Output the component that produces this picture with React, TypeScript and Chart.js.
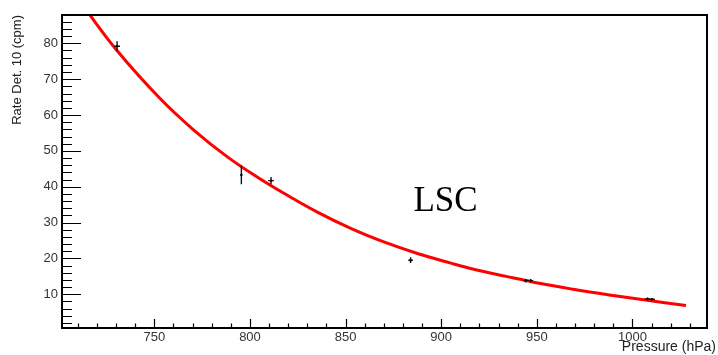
import React, { useEffect, useRef } from 'react';
import { Chart, registerables } from 'chart.js';

Chart.register(...registerables);

// Measured points (pressure in hPa, rate in cpm) with their error bars
const pressure = [730.5, 795.5, 811.0, 884.0, 944.2, 946.8, 1007.9, 1010.2];
const rate = [79.2, 43.3, 41.7, 19.5, 13.8, 13.8, 8.7, 8.6];
const rateErr = [1.4, 2.6, 1.0, 0.8, 0.5, 0.5, 0.4, 0.4];
const pressureErr = [1.5, 0.6, 1.5, 1.2, 1.2, 1.2, 1.5, 1.5];

// Fit curve
const fitPressure = [712, 730, 753, 770, 788, 805, 818, 835, 853, 870, 888, 905, 917, 934, 952, 969, 987, 1004, 1028];
const fitRate = [91.0, 78.3, 64.6, 56.1, 48.4, 42.3, 38.1, 33.0, 28.3, 24.6, 21.3, 18.7, 17.0, 15.0, 13.0, 11.4, 9.9, 8.6, 6.9];

// Axes
const xRange = [701.7, 1039];
const yRange = [0.6, 87.9];
const xMajorStep = 50;
const xMinorStep = 10;
const yMajorStep = 10;
const yMinorStep = 2;

const xTitle = 'Pressure (hPa)';
const yTitle = 'Rate Det. 10 (cpm)';
const labelText = 'LSC';
const labelAt = [885.5, 33.1];

const rootStylePlugin = {
  id: 'rootStyle',
  afterDatasetsDraw(chart: any) {
    const { ctx, chartArea } = chart;
    const xs = chart.scales.x;
    const ys = chart.scales.y;
    const { left, right, top, bottom } = chartArea;
    ctx.save();

    // error bars
    ctx.strokeStyle = '#111';
    ctx.lineWidth = 1.4;
    for (let i = 0; i < pressure.length; i++) {
      const px = xs.getPixelForValue(pressure[i]);
      const py = ys.getPixelForValue(rate[i]);
      const x0 = xs.getPixelForValue(pressure[i] - pressureErr[i]);
      const x1 = xs.getPixelForValue(pressure[i] + pressureErr[i]);
      const y0 = ys.getPixelForValue(rate[i] - rateErr[i]);
      const y1 = ys.getPixelForValue(rate[i] + rateErr[i]);
      ctx.beginPath();
      ctx.moveTo(x0, py);
      ctx.lineTo(x1, py);
      ctx.moveTo(px, y0);
      ctx.lineTo(px, y1);
      ctx.stroke();
    }

    // ticks inside the frame
    ctx.strokeStyle = '#000';
    ctx.lineWidth = 1.2;
    ctx.beginPath();
    const xStart = Math.ceil(xRange[0] / xMinorStep) * xMinorStep;
    for (let v = xStart; v <= xRange[1]; v += xMinorStep) {
      const p = Math.round(xs.getPixelForValue(v)) + 0.5;
      const len = v % xMajorStep === 0 ? 9 : 4.5;
      ctx.moveTo(p, bottom);
      ctx.lineTo(p, bottom - len);
    }
    const yStart = Math.ceil(yRange[0] / yMinorStep) * yMinorStep;
    for (let v = yStart; v <= yRange[1]; v += yMinorStep) {
      const p = Math.round(ys.getPixelForValue(v)) + 0.5;
      const len = v % yMajorStep === 0 ? 19 : 10;
      ctx.moveTo(left, p);
      ctx.lineTo(left + len, p);
    }
    ctx.stroke();

    // frame
    ctx.lineWidth = 2;
    ctx.strokeRect(left, top, right - left, bottom - top);

    // label
    ctx.fillStyle = '#000';
    ctx.font = '35px "Liberation Serif", "DejaVu Serif", serif';
    ctx.textAlign = 'left';
    ctx.textBaseline = 'alphabetic';
    ctx.fillText(labelText, xs.getPixelForValue(labelAt[0]), ys.getPixelForValue(labelAt[1]));

    // x axis title (right aligned under axis end)
    ctx.fillStyle = '#222';
    ctx.font = '14px "Liberation Sans", Arial, sans-serif';
    ctx.textAlign = 'right';
    ctx.textBaseline = 'middle';
    ctx.fillText(xTitle, chart.width - 2, 347);
    ctx.restore();
  },
};

export default function App() {
  const ref = useRef<HTMLCanvasElement | null>(null);
  useEffect(() => {
    document.body.style.margin = '0';
    const canvas = ref.current!;
    const chart = new Chart(canvas, {
      type: 'scatter',
      data: {
        datasets: [
          {
            type: 'line',
            label: 'fit',
            data: fitPressure.map((x, i) => ({ x, y: fitRate[i] })),
            borderColor: '#f00',
            borderWidth: 3,
            pointRadius: 0,
            tension: 0.4,
            fill: false,
          } as any,
          {
            type: 'scatter',
            label: 'data',
            data: pressure.map((x, i) => ({ x, y: rate[i] })),
            backgroundColor: '#111',
            borderColor: '#111',
            pointRadius: 1.2,
            borderWidth: 0,
          },
        ],
      },
      options: {
        responsive: false,
        animation: false,
        devicePixelRatio: 1,
        layout: { padding: { top: 15, right: 11, bottom: 0, left: 0 } },
        plugins: { legend: { display: false }, tooltip: { enabled: false }, title: { display: false } },
        scales: {
          x: {
            type: 'linear',
            min: xRange[0],
            max: xRange[1],
            grid: { display: false, drawTicks: false },
            border: { display: false },
            ticks: {
              stepSize: xMajorStep,
              includeBounds: false,
              padding: 2,
              color: '#333',
              font: { family: '"Liberation Sans", Arial, sans-serif', size: 13 },
              maxRotation: 0,
              callback: (v: any) => String(v),
            },
            afterFit: (s: any) => {
              s.height = 27;
            },
          },
          y: {
            type: 'linear',
            min: yRange[0],
            max: yRange[1],
            grid: { display: false, drawTicks: false },
            border: { display: false },
            ticks: {
              stepSize: yMajorStep,
              includeBounds: false,
              padding: 4,
              color: '#333',
              font: { family: '"Liberation Sans", Arial, sans-serif', size: 13 },
              callback: (v: any) => String(v),
            },
            title: {
              display: true,
              text: yTitle,
              align: 'end',
              color: '#222',
              font: { family: '"Liberation Sans", Arial, sans-serif', size: 13 },
              padding: { top: 10, bottom: 0 },
            },
            afterFit: (s: any) => {
              s.width = 62;
            },
          },
        },
      },
      plugins: [rootStylePlugin],
    });
    return () => chart.destroy();
  }, []);
  return (
    <div style={{ position: 'absolute', left: 0, top: 0, width: 718, height: 355, background: '#fff' }}>
      <canvas ref={ref} width={718} height={355} />
    </div>
  );
}
